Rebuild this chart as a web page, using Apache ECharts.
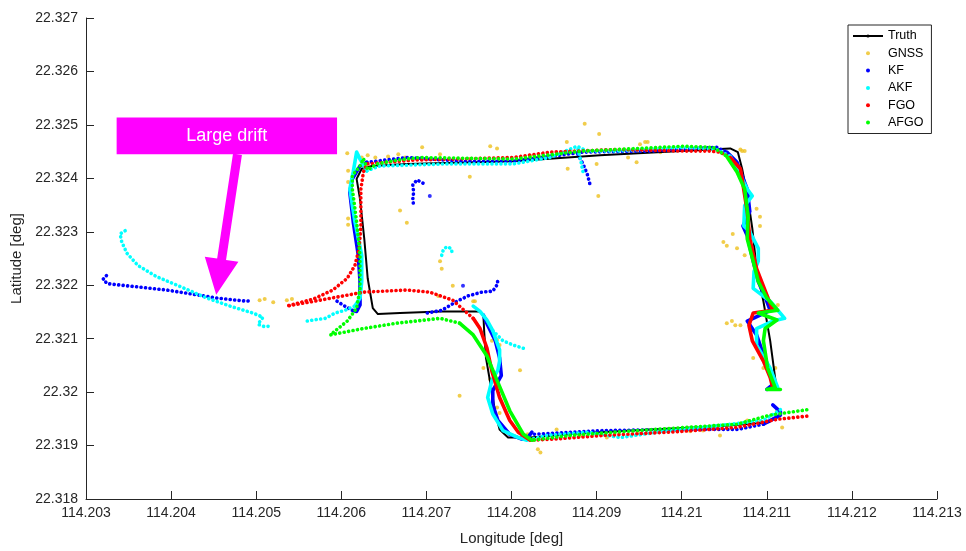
<!DOCTYPE html>
<html>
<head>
<meta charset="utf-8">
<script src="https://cdn.jsdelivr.net/npm/echarts@6/dist/echarts.min.js"></script>
<style>
  html, body { margin: 0; padding: 0; background: #fff; }
  #chart { width: 966px; height: 551px; }
</style>
</head>
<body>
<div id="chart"></div>
<script>
// Axis ranges and ticks (degrees)
const lonTicks = [114.203, 114.204, 114.205, 114.206, 114.207, 114.208, 114.209, 114.21, 114.211, 114.212, 114.213];
const latTicks = [22.318, 22.319, 22.32, 22.321, 22.322, 22.323, 22.324, 22.325, 22.326, 22.327];

// Ground truth trajectory [lon, lat]
const truthTrack = [[114.21104,22.31944],[114.21045,22.31936],[114.20963,22.31930],[114.20881,22.31923],[114.20822,22.31915],[114.20796,22.31915],[114.20786,22.31930],[114.20781,22.31961],[114.20775,22.32018],[114.20770,22.32064],[114.20768,22.32111],[114.20767,22.32142],[114.20763,22.32151],[114.20716,22.32151],[114.20669,22.32148],[114.20643,22.32146],[114.20637,22.32157],[114.20631,22.32213],[114.20627,22.32287],[114.20622,22.32361],[114.20618,22.32399],[114.20624,22.32418],[114.20636,22.32423],[114.20677,22.32427],[114.20802,22.32432],[114.20904,22.32443],[114.21022,22.32453],[114.21057,22.32456],[114.21066,22.32449],[114.21071,22.32418],[114.21078,22.32361],[114.21083,22.32306],[114.21088,22.32231],[114.21096,22.32170],[114.21104,22.32096],[114.21111,22.32012]];

// Raw GNSS fixes
const gnssFixes = [[114.20504,22.32172],[114.20510,22.32174],[114.20520,22.32168],[114.20536,22.32172],[114.20542,22.32174],
  [114.20607,22.32447],[114.20608,22.32414],[114.20608,22.32393],[114.20608,22.32325],[114.20608,22.32313],
  [114.20655,22.32441],[114.20667,22.32445],[114.20695,22.32458],[114.20716,22.32445],[114.20751,22.32403],
  [114.20775,22.32460],[114.20783,22.32456],[114.20669,22.32340],[114.20677,22.32317],[114.20718,22.32231],
  [114.20716,22.32245],[114.20731,22.32199],[114.20757,22.32170],[114.20714,22.32180],[114.20624,22.32439],
  [114.20631,22.32443],[114.20640,22.32439],[114.20675,22.32439],[114.20751,22.32436],[114.20822,22.32442],
  [114.20975,22.32449],[114.21022,22.32453],
  [114.20886,22.32502],[114.20903,22.32483],[114.20866,22.32418],[114.20900,22.32427],[114.20902,22.32367],
  [114.20937,22.32439],[114.20947,22.32430],[114.20951,22.32464],[114.20957,22.32468],[114.20960,22.32468],
  [114.21071,22.32451],[114.21074,22.32451],[114.21069,22.32454],[114.20865,22.32468],[114.20828,22.32439],
  [114.21088,22.32343],[114.21092,22.32328],[114.21092,22.32311],[114.21060,22.32296],[114.21049,22.32281],
  [114.21053,22.32274],[114.21065,22.32269],[114.21074,22.32256],[114.21053,22.32129],[114.21063,22.32125],
  [114.21069,22.32125],[114.21084,22.32064],[114.21096,22.32045],[114.21110,22.32045],[114.21059,22.32133],
  [114.21113,22.32163],
  [114.20755,22.32170],[114.20778,22.32107],[114.20783,22.32098],[114.20777,22.32096],[114.20786,22.32088],
  [114.20767,22.32045],[114.20775,22.32024],[114.20810,22.32041],[114.20739,22.31993],[114.20783,22.31971],
  [114.20786,22.31961],
  [114.20853,22.31930],[114.20831,22.31893],[114.20834,22.31887],[114.20819,22.31921],[114.20912,22.31915],
  [114.20971,22.31928],[114.21025,22.31928],[114.21045,22.31919],[114.21077,22.31947],[114.21118,22.31934],
  [114.21112,22.31965],[114.20881,22.31919],[114.20951,22.31923],[114.21010,22.31927],[114.21092,22.31944]];

// KF estimate (sparse = separate dots, dense = overlapping dots)
const kfDrift = [[114.20324,22.32218],[114.20320,22.32211],[114.20325,22.32203],[114.20336,22.32201],[114.20395,22.32191],[114.20454,22.32176],[114.20489,22.32170],[114.20495,22.32172]];
const kfHook = [[114.20595,22.32170],[114.20604,22.32161],[114.20613,22.32153]];
const kfWest = [[114.20613,22.32153],[114.20618,22.32151],[114.20622,22.32163],[114.20622,22.32207],[114.20620,22.32256],[114.20614,22.32319],[114.20610,22.32374],[114.20613,22.32399],[114.20622,22.32423],[114.20630,22.32430]];
const kfNorth = [[114.20630,22.32430],[114.20677,22.32439],[114.20743,22.32432],[114.20802,22.32432],[114.20884,22.32449],[114.20963,22.32451],[114.21041,22.32458],[114.21053,22.32449]];
const kfEast = [[114.21053,22.32449],[114.21065,22.32430],[114.21077,22.32380],[114.21080,22.32338],[114.21072,22.32311],[114.21077,22.32293],[114.21084,22.32245],[114.21090,22.32207],[114.21100,22.32170],[114.21104,22.32153],[114.21084,22.32138],[114.21077,22.32133],[114.21088,22.32107],[114.21096,22.32070],[114.21104,22.32039],[114.21107,22.32014],[114.21100,22.32005]];
const kfCorner = [[114.21107,22.31976],[114.21116,22.31963],[114.21116,22.31957],[114.21096,22.31940]];
const kfSouth = [[114.21096,22.31940],[114.21065,22.31930],[114.20986,22.31930],[114.20908,22.31928],[114.20824,22.31921]];
const kfMiddle = [[114.20824,22.31925],[114.20819,22.31915],[114.20812,22.31912],[114.20798,22.31921],[114.20784,22.31947],[114.20778,22.31976],[114.20778,22.32003],[114.20788,22.32031],[114.20786,22.32064],[114.20781,22.32096],[114.20772,22.32125],[114.20767,22.32144]];
const kfCross = [[114.20701,22.32148],[114.20718,22.32153],[114.20736,22.32170],[114.20749,22.32180],[114.20765,22.32187],[114.20778,22.32189],[114.20784,22.32203],[114.20783,22.32213]];
const kfSpur = [[114.20878,22.32445],[114.20884,22.32427],[114.20889,22.32408],[114.20892,22.32390]];
const kfArc = [[114.20696,22.32391],[114.20689,22.32397],[114.20684,22.32388],[114.20685,22.32374],[114.20684,22.32361],[114.20685,22.32349]];
const kfStray = [[114.20704,22.32367],[114.20743,22.32199]];

// AKF estimate
const akfDrift = [[114.20346,22.32302],[114.20340,22.32296],[114.20342,22.32281],[114.20348,22.32260],[114.20361,22.32237],[114.20383,22.32216],[114.20410,22.32198],[114.20442,22.32176],[114.20469,22.32161],[114.20496,22.32148],[114.20508,22.32140],[114.20502,22.32127],[114.20509,22.32123],[114.20519,22.32123]];
const akfApproach = [[114.20560,22.32133],[114.20567,22.32135],[114.20581,22.32138],[114.20593,22.32148],[114.20604,22.32153],[114.20616,22.32161]];
const akfWest = [[114.20616,22.32161],[114.20622,22.32176],[114.20624,22.32207],[114.20624,22.32256],[114.20616,22.32319],[114.20610,22.32380],[114.20614,22.32412],[114.20618,22.32449],[114.20622,22.32436],[114.20630,22.32414]];
const akfNorth = [[114.20630,22.32414],[114.20645,22.32423],[114.20724,22.32427],[114.20802,22.32427],[114.20845,22.32439],[114.20877,22.32460],[114.20889,22.32451],[114.20924,22.32451],[114.21002,22.32458],[114.21041,22.32454],[114.21057,22.32441]];
const akfSpur = [[114.20878,22.32454],[114.20881,22.32436],[114.20884,22.32412]];
const akfEast = [[114.21057,22.32441],[114.21069,22.32405],[114.21077,22.32380],[114.21083,22.32367],[114.21074,22.32349],[114.21073,22.32311],[114.21080,22.32300],[114.21090,22.32269],[114.21090,22.32245],[114.21085,22.32226],[114.21084,22.32194],[114.21104,22.32170],[114.21121,22.32138],[114.21107,22.32133],[114.21088,22.32119],[114.21088,22.32088],[114.21104,22.32045],[114.21113,22.32008]];
const akfSouth = [[114.21116,22.31967],[114.21096,22.31947],[114.21025,22.31934],[114.20971,22.31925],[114.20928,22.31915],[114.20889,22.31925],[114.20842,22.31919],[114.20818,22.31910]];
const akfMiddle = [[114.20818,22.31910],[114.20808,22.31915],[114.20790,22.31928],[114.20778,22.31959],[114.20772,22.31990],[114.20777,22.32022],[114.20784,22.32041],[114.20786,22.32058],[114.20786,22.32079],[114.20778,22.32115],[114.20771,22.32135],[114.20763,22.32151],[114.20755,22.32161]];
const akfBranch = [[114.20778,22.32115],[114.20790,22.32096],[114.20802,22.32088],[114.20816,22.32081]];
const akfArc = [[114.20718,22.32256],[114.20720,22.32267],[114.20724,22.32272],[114.20729,22.32269],[114.20731,22.32256]];

// FGO estimate
const fgoSouth = [[114.21147,22.31955],[114.21112,22.31949],[114.21065,22.31934],[114.20986,22.31925],[114.20908,22.31919],[114.20849,22.31912],[114.20822,22.31910]];
const fgoMiddle = [[114.20822,22.31910],[114.20808,22.31925],[114.20798,22.31947],[114.20786,22.31990],[114.20777,22.32039],[114.20771,22.32083],[114.20763,22.32119],[114.20755,22.32138]];
const fgoLoop = [[114.20755,22.32138],[114.20731,22.32172],[114.20704,22.32187],[114.20677,22.32191],[114.20626,22.32187],[114.20575,22.32172],[114.20536,22.32161],[114.20567,22.32174],[114.20590,22.32191],[114.20607,22.32213],[114.20616,22.32237],[114.20621,22.32269],[114.20623,22.32311],[114.20623,22.32380],[114.20626,22.32412],[114.20630,22.32427],[114.20684,22.32434],[114.20802,22.32439],[114.20845,22.32449],[114.20924,22.32454],[114.21002,22.32451],[114.21033,22.32451],[114.21045,22.32449],[114.21057,22.32439]];
const fgoEast = [[114.21057,22.32439],[114.21069,22.32418],[114.21071,22.32399],[114.21077,22.32338],[114.21080,22.32287],[114.21088,22.32231],[114.21100,22.32182],[114.21107,22.32153],[114.21084,22.32148],[114.21079,22.32125],[114.21083,22.32096],[114.21096,22.32058],[114.21104,22.32027],[114.21107,22.32008]];

// AFGO estimate
const afgoSouth = [[114.21147,22.31967],[114.21104,22.31957],[114.21065,22.31940],[114.20947,22.31928],[114.20869,22.31919],[114.20824,22.31910]];
const afgoMiddle = [[114.20824,22.31910],[114.20814,22.31921],[114.20798,22.31965],[114.20783,22.32022],[114.20771,22.32068],[114.20755,22.32107],[114.20739,22.32129]];
const afgoLoop = [[114.20739,22.32129],[114.20716,22.32138],[114.20665,22.32129],[114.20626,22.32119],[114.20587,22.32107],[114.20607,22.32133],[114.20618,22.32157],[114.20622,22.32194],[114.20622,22.32256],[114.20618,22.32319],[114.20613,22.32380],[114.20613,22.32405],[114.20622,22.32423],[114.20626,22.32437],[114.20631,22.32416],[114.20642,22.32427],[114.20665,22.32434],[114.20692,22.32439],[114.20802,22.32436],[114.20884,22.32451],[114.21002,22.32460],[114.21037,22.32458],[114.21053,22.32441]];
const afgoEast = [[114.21053,22.32441],[114.21065,22.32412],[114.21074,22.32380],[114.21078,22.32330],[114.21077,22.32287],[114.21084,22.32245],[114.21090,22.32207],[114.21100,22.32176],[114.21113,22.32153],[114.21090,22.32148],[114.21112,22.32135],[114.21098,22.32119],[114.21096,22.32096],[114.21101,22.32045],[114.21110,22.32008],[114.21100,22.32005],[114.21116,22.32005]];

// Annotation anchors (degrees): label box corners, arrow tail and tip
const driftBox = [[114.20336, 22.32514], [114.20595, 22.32445]];
const driftArrow = [[114.20478, 22.32445], [114.20453, 22.32182]];

const FONT = '"Liberation Sans", Arial, Helvetica, sans-serif';
const AXIS_COLOR = '#262626';
const COLORS = { Truth: '#000000', GNSS: '#EDC01E', KF: '#0000FF', AKF: '#00FFFF', FGO: '#FF0000', AFGO: '#00FF00' };

function track(name, pts, dense) {
  const color = COLORS[name];
  return {
    name: name, type: 'line', data: pts, symbol: 'none', silent: true,
    color: color, itemStyle: { color: color },
    lineStyle: dense
      ? { width: 3.6, color: color, cap: 'round', join: 'round' }
      : { width: 3.6, color: color, type: [0.1, 4.4], cap: 'round', join: 'round' }
  };
}

const chart = echarts.init(document.getElementById('chart'), null, { renderer: 'canvas' });

const fmt = v => String(parseFloat(v.toFixed(3)));

chart.setOption({
  animation: false,
  backgroundColor: '#fff',
  textStyle: { fontFamily: FONT },
  grid: { left: 86, right: 29, top: 18, bottom: 49, containLabel: false },
  xAxis: {
    type: 'value', min: lonTicks[0], max: lonTicks[lonTicks.length - 1], interval: 0.001,
    name: 'Longitude [deg]', nameLocation: 'middle', nameGap: 32,
    nameTextStyle: { color: AXIS_COLOR, fontSize: 15, fontFamily: FONT },
    axisLine: { show: true, onZero: false, lineStyle: { color: AXIS_COLOR, width: 1 } },
    axisTick: { show: true, inside: true, length: 8, lineStyle: { color: AXIS_COLOR } },
    axisLabel: { color: AXIS_COLOR, fontSize: 14, fontFamily: FONT, margin: 7, formatter: fmt, showMinLabel: true, showMaxLabel: true },
    splitLine: { show: false }
  },
  yAxis: {
    type: 'value', min: latTicks[0], max: latTicks[latTicks.length - 1], interval: 0.001,
    name: 'Latitude [deg]', nameLocation: 'middle', nameGap: 47, nameRotate: 90,
    nameTextStyle: { color: AXIS_COLOR, fontSize: 15, fontFamily: FONT },
    axisLine: { show: true, onZero: false, lineStyle: { color: AXIS_COLOR, width: 1 } },
    axisTick: { show: true, inside: true, length: 8, lineStyle: { color: AXIS_COLOR } },
    axisLabel: { color: AXIS_COLOR, fontSize: 14, fontFamily: FONT, margin: 8, formatter: fmt, showMinLabel: true, showMaxLabel: true },
    splitLine: { show: false }
  },
  legend: {
    orient: 'vertical', left: 848, top: 25,
    backgroundColor: '#fff', borderColor: '#262626', borderWidth: 1,
    padding: [4, 8, 4, 4], itemGap: 3.3, itemWidth: 30, itemHeight: 4,
    textStyle: { color: '#000', fontSize: 12.5, fontFamily: FONT, lineHeight: 14 },
    selectedMode: false,
    data: [
      { name: 'Truth' },
      { name: 'GNSS', icon: 'circle' },
      { name: 'KF', icon: 'circle' },
      { name: 'AKF', icon: 'circle' },
      { name: 'FGO', icon: 'circle' },
      { name: 'AFGO', icon: 'circle' }
    ]
  },
  series: [
    { name: 'Truth', type: 'line', data: truthTrack, symbol: 'none', silent: true, color: COLORS.Truth,
      itemStyle: { color: COLORS.Truth }, lineStyle: { width: 2, color: COLORS.Truth, join: 'round' } },
    { name: 'GNSS', type: 'scatter', data: gnssFixes, symbol: 'circle', symbolSize: 4, silent: true,
      itemStyle: { color: COLORS.GNSS } },
    track('KF', kfDrift, false), track('KF', kfHook, false), track('KF', kfWest, true),
    track('KF', kfNorth, false), track('KF', kfEast, true), track('KF', kfCorner, true),
    track('KF', kfSouth, false), track('KF', kfMiddle, true), track('KF', kfCross, false),
    track('KF', kfSpur, false), track('KF', kfArc, false),
    { name: 'KF', type: 'scatter', data: kfStray, symbol: 'circle', symbolSize: 4, silent: true, itemStyle: { color: COLORS.KF } },
    track('AKF', akfDrift, false), track('AKF', akfApproach, false), track('AKF', akfWest, true),
    track('AKF', akfNorth, false), track('AKF', akfSpur, false), track('AKF', akfEast, true),
    track('AKF', akfSouth, false), track('AKF', akfMiddle, true), track('AKF', akfBranch, false),
    track('AKF', akfArc, false),
    track('FGO', fgoSouth, false), track('FGO', fgoMiddle, true), track('FGO', fgoLoop, false), track('FGO', fgoEast, true),
    track('AFGO', afgoSouth, false), track('AFGO', afgoMiddle, true), track('AFGO', afgoLoop, false), track('AFGO', afgoEast, true)
  ]
});

// "Large drift" call-out: box and arrow placed through the grid's coordinate system
function drawCallout() {
  const a = chart.convertToPixel({ gridIndex: 0 }, driftBox[0]);
  const b = chart.convertToPixel({ gridIndex: 0 }, driftBox[1]);
  const t = chart.convertToPixel({ gridIndex: 0 }, driftArrow[0]);
  const p = chart.convertToPixel({ gridIndex: 0 }, driftArrow[1]);
  const dx = p[0] - t[0], dy = p[1] - t[1];
  const len = Math.hypot(dx, dy);
  const ux = dx / len, uy = dy / len, nx = -uy, ny = ux;
  const shaft = 4.5, head = 17, headLen = 36;
  const hx = p[0] - ux * headLen, hy = p[1] - uy * headLen;
  const arrow = [
    [t[0] + nx * shaft, t[1] + ny * shaft],
    [hx + nx * shaft, hy + ny * shaft],
    [hx + nx * head, hy + ny * head],
    [p[0], p[1]],
    [hx - nx * head, hy - ny * head],
    [hx - nx * shaft, hy - ny * shaft],
    [t[0] - nx * shaft, t[1] - ny * shaft]
  ];
  chart.setOption({
    graphic: [
      { type: 'polygon', shape: { points: arrow }, style: { fill: '#FF00FF' }, z: 100, silent: true },
      { type: 'rect', shape: { x: a[0], y: a[1], width: b[0] - a[0], height: b[1] - a[1] },
        style: { fill: '#FF00FF' }, z: 101, silent: true },
      { type: 'text', x: (a[0] + b[0]) / 2, y: (a[1] + b[1]) / 2, z: 102, silent: true,
        style: { text: 'Large drift', fill: '#fff', font: '18px ' + FONT, align: 'center', verticalAlign: 'middle' } }
    ]
  });
}
drawCallout();
</script>
</body>
</html>
